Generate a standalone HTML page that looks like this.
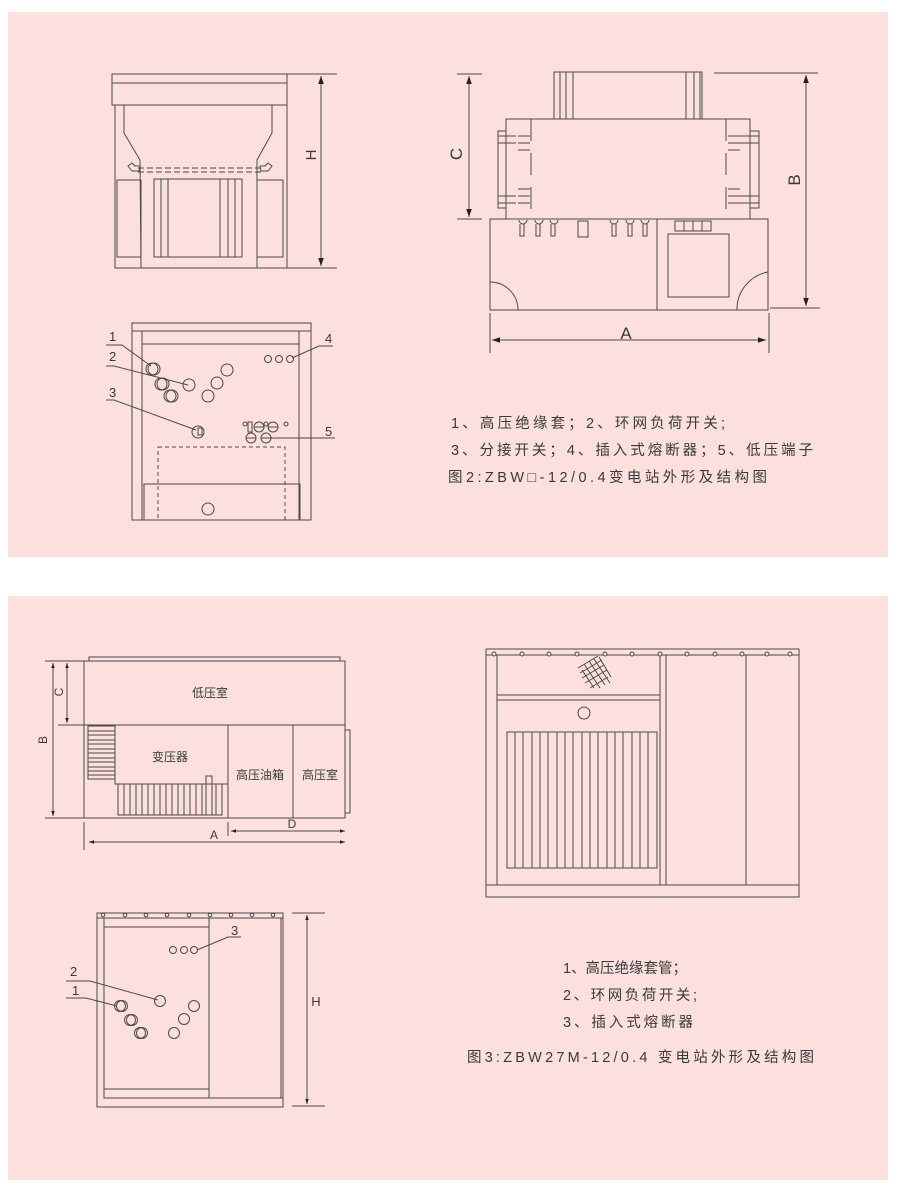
<!DOCTYPE html>
<html><head><meta charset="utf-8"><style>
html,body{margin:0;padding:0;background:#fff;}
svg{display:block;}
text{font-family:"Liberation Sans","Noto Sans CJK SC",sans-serif;fill:#3a3a3a;}
</style></head><body>
<svg width="900" height="1189" viewBox="0 0 900 1189" xmlns="http://www.w3.org/2000/svg">
<defs>
<marker id="ar" viewBox="0 0 10 10" refX="10" refY="5" markerWidth="8" markerHeight="8" orient="auto-start-reverse"><path d="M0,1.5 L10,5 L0,8.5 z" fill="#222"/></marker>
<marker id="as" viewBox="0 0 10 10" refX="10" refY="5" markerWidth="5" markerHeight="5" orient="auto-start-reverse"><path d="M0,1.5 L10,5 L0,8.5 z" fill="#222"/></marker>
</defs>
<rect x="8" y="12" width="880" height="545" fill="#fbe0de"/>
<rect x="8" y="596" width="880" height="584" fill="#fbe0de"/>
<g fill="none" stroke="#4a4a4a" stroke-width="1">
<!-- Fig1 top-left -->
<rect x="112" y="74" width="175" height="31"/>
<line x1="112" y1="83" x2="287" y2="83"/>
<polyline points="115,105 115,268 287,268 287,105"/>
<polyline points="124,105 124,133 140,160 141,268"/>
<polyline points="272,105 272,133 257,160 257,268"/>
<line x1="138" y1="168" x2="262" y2="168" stroke-dasharray="6,3"/>
<line x1="138" y1="172" x2="262" y2="172" stroke-dasharray="6,3"/>
<path d="M128,166 l4,-3 l3,3 l5,0 l-1,5 l-7,0 z"/>
<path d="M272,166 l-4,-3 l-3,3 l-5,0 l1,5 l7,0 z"/>
<rect x="117" y="180" width="24" height="77"/>
<rect x="257" y="180" width="26" height="77"/>
<rect x="154" y="179" width="88" height="78"/>
<line x1="161" y1="179" x2="161" y2="257"/><line x1="168" y1="179" x2="168" y2="257"/>
<line x1="220" y1="179" x2="220" y2="257"/><line x1="228" y1="179" x2="228" y2="257"/><line x1="235" y1="179" x2="235" y2="257"/>
<line x1="287" y1="74" x2="337" y2="74"/><line x1="287" y1="268" x2="337" y2="268"/>
<line x1="321" y1="76" x2="321" y2="266" marker-start="url(#ar)" marker-end="url(#ar)"/>
<!-- Fig2 right -->
<rect x="554" y="72" width="148" height="47"/>
<line x1="560" y1="72" x2="560" y2="119"/><line x1="566" y1="72" x2="566" y2="119"/><line x1="573" y1="72" x2="573" y2="119"/>
<line x1="686" y1="72" x2="686" y2="119"/><line x1="694" y1="72" x2="694" y2="119"/><line x1="700" y1="72" x2="700" y2="119"/>
<rect x="506" y="119" width="244" height="100"/>
<line x1="531" y1="119" x2="531" y2="219" stroke-dasharray="22,12"/>
<line x1="726" y1="119" x2="726" y2="219" stroke-dasharray="22,12"/>
<rect x="498" y="131" width="8" height="77"/><rect x="750" y="131" width="9" height="77"/>
<path d="M498,136h18M498,143h18M518,136h12M518,143h12M518,150h12M498,196h18M498,203h18M518,196h12M518,203h12M518,189h12"/>
<path d="M740,136h19M740,143h19M728,136h12M728,143h12M728,150h12M740,196h19M740,203h19M728,196h12M728,203h12M728,189h12"/>
<rect x="490" y="219" width="278" height="91"/>
<line x1="657" y1="219" x2="657" y2="310"/>
<rect x="668" y="234" width="61" height="63"/>
<path d="M490,282 A28,28 0 0 1 518,310"/>
<path d="M768,272 A38,38 0 0 0 737,310"/>
<g>
<path d="M519,220 a4,4 0 0 0 8,0 M520,224 v12 h4 v-12 M535,220 a4,4 0 0 0 8,0 M536,224 v12 h4 v-12 M550,220 a4,4 0 0 0 8,0 M551,224 v12 h4 v-12"/>
<rect x="578" y="221" width="10" height="16"/>
<path d="M610,220 a4,4 0 0 0 8,0 M612,224 v12 h4 v-12 M626,220 a4,4 0 0 0 8,0 M628,224 v12 h4 v-12 M641,220 a4,4 0 0 0 8,0 M643,224 v12 h4 v-12"/>
<rect x="675" y="221" width="9" height="10"/><rect x="684" y="221" width="9" height="10"/><rect x="693" y="221" width="9" height="10"/><rect x="702" y="221" width="9" height="10"/>
</g>
<line x1="457" y1="74" x2="482" y2="74"/><line x1="457" y1="219" x2="482" y2="219"/>
<line x1="469" y1="76" x2="469" y2="217" marker-start="url(#ar)" marker-end="url(#ar)"/>
<line x1="714" y1="73" x2="818" y2="73"/><line x1="770" y1="308" x2="820" y2="308"/>
<line x1="806" y1="75" x2="806" y2="306" marker-start="url(#ar)" marker-end="url(#ar)"/>
<line x1="490" y1="313" x2="490" y2="353"/><line x1="769" y1="313" x2="769" y2="353"/>
<line x1="492" y1="340" x2="766" y2="340" marker-start="url(#ar)" marker-end="url(#ar)"/>
<!-- Fig2 bottom-left -->
<rect x="132" y="323" width="179" height="197"/>
<line x1="132" y1="331" x2="311" y2="331"/>
<line x1="142" y1="331" x2="142" y2="520"/><line x1="299" y1="331" x2="299" y2="520"/>
<line x1="142" y1="344" x2="299" y2="344"/>
<rect x="158" y="447" width="127" height="73" stroke-dasharray="4,3"/>
<rect x="144" y="484" width="156" height="36"/>
<circle cx="208" cy="509" r="6"/>
<circle cx="152" cy="369" r="6"/><circle cx="154" cy="369" r="6"/>
<circle cx="161" cy="384" r="6"/><circle cx="163" cy="384" r="6"/>
<circle cx="170" cy="396" r="6"/><circle cx="172" cy="396" r="6"/>
<circle cx="189" cy="385" r="6"/>
<circle cx="227" cy="370" r="6"/><circle cx="217" cy="383" r="6"/><circle cx="208" cy="396" r="6"/>
<circle cx="198" cy="432" r="6"/><rect x="198" y="428" width="4" height="7"/>
<circle cx="268" cy="359" r="3.5"/><circle cx="279" cy="359" r="3.5"/><circle cx="290" cy="359" r="3.5"/>
<circle cx="245" cy="424" r="2"/><rect x="248" y="422" width="4" height="10"/>
<circle cx="259" cy="427" r="5"/><circle cx="273" cy="427" r="5"/><circle cx="266" cy="424" r="2"/><circle cx="286" cy="424" r="2"/>
<circle cx="251" cy="438" r="5"/><circle cx="266" cy="438" r="5"/>
<path d="M254,427h10M268,427h10M246,438h10M261,438h10"/>
<path d="M106,345 h16 L151,366"/>
<path d="M106,366 h8 L188,385"/>
<path d="M106,400 h8 L196,430"/>
<path d="M333,346 h-14 L292,358"/>
<path d="M335,438 L267,438"/>
<!-- Fig3 top-left -->
<rect x="89" y="657" width="251" height="4"/>
<rect x="84" y="661" width="261" height="157"/>
<line x1="84" y1="725" x2="345" y2="725"/>
<rect x="88" y="726" width="27" height="53"/>
<path d="M88,731h27M88,735h27M88,740h27M88,744h27M88,749h27M88,753h27M88,758h27M88,762h27M88,767h27M88,771h27M88,775h27"/>
<rect x="115" y="725" width="113" height="59"/>
<path d="M118,784v31h104v-31M124,784v31M130,784v31M136,784v31M142,784v31M148,784v31M154,784v31M160,784v31M166,784v31M172,784v31M178,784v31M184,784v31M190,784v31M196,784v31M202,784v31M216,784v31"/>
<rect x="206" y="776" width="6" height="39"/>
<line x1="228" y1="725" x2="228" y2="818"/><line x1="293" y1="725" x2="293" y2="818"/>
<rect x="345" y="730" width="5" height="83"/>
<line x1="45" y1="661" x2="84" y2="661"/><line x1="45" y1="818" x2="84" y2="818"/><line x1="58" y1="725" x2="84" y2="725"/>
<line x1="53" y1="663" x2="53" y2="816" marker-start="url(#as)" marker-end="url(#as)"/>
<line x1="67" y1="663" x2="67" y2="723" marker-start="url(#as)" marker-end="url(#as)"/>
<line x1="84" y1="822" x2="84" y2="850"/><line x1="228" y1="822" x2="228" y2="836"/>
<line x1="89" y1="842" x2="345" y2="842" marker-start="url(#as)" marker-end="url(#as)"/>
<line x1="231" y1="831" x2="345" y2="831" marker-start="url(#as)" marker-end="url(#as)"/>
<!-- Fig3 right -->
<rect x="486" y="649" width="313" height="248"/>
<line x1="486" y1="655" x2="799" y2="655"/>
<line x1="486" y1="885" x2="799" y2="885"/>
<line x1="497" y1="655" x2="497" y2="885"/>
<line x1="660" y1="655" x2="660" y2="885"/><line x1="666" y1="655" x2="666" y2="885"/>
<line x1="746" y1="655" x2="746" y2="885"/>
<rect x="497" y="695" width="163" height="5"/>
<circle cx="584" cy="713" r="6"/>
<g fill="#fbe0de"><circle cx="494" cy="654" r="2"/><circle cx="522" cy="654" r="2"/><circle cx="549" cy="654" r="2"/><circle cx="577" cy="654" r="2"/><circle cx="605" cy="654" r="2"/><circle cx="632" cy="654" r="2"/><circle cx="660" cy="654" r="2"/><circle cx="687" cy="654" r="2"/><circle cx="715" cy="654" r="2"/><circle cx="742" cy="654" r="2"/><circle cx="767" cy="654" r="2"/><circle cx="790" cy="654" r="2"/></g>
<path d="M578,668l20,-12M580,673l22,-13M582,678l22,-13M585,683l22,-13M590,688l18,-11M584,664l16,24M589,661l16,24M594,659l16,24M599,657l12,20M582,670l12,18"/>
<rect x="507" y="732" width="150" height="136"/>
<path d="M515,732v136M523,732v136M532,732v136M540,732v136M548,732v136M557,732v136M565,732v136M573,732v136M582,732v136M590,732v136M598,732v136M607,732v136M615,732v136M623,732v136M632,732v136M640,732v136M648,732v136"/>
<!-- Fig3 bottom-left -->
<rect x="97" y="913" width="186" height="194"/>
<line x1="97" y1="918" x2="283" y2="918"/>
<rect x="104" y="918" width="105" height="180"/>
<line x1="104" y1="927" x2="209" y2="927"/>
<line x1="104" y1="1089" x2="209" y2="1089"/>
<line x1="209" y1="1098" x2="283" y2="1098"/>
<line x1="281" y1="918" x2="281" y2="1098"/>
<g fill="#fbe0de"><circle cx="103" cy="915" r="1.8"/><circle cx="125" cy="915" r="1.8"/><circle cx="146" cy="915" r="1.8"/><circle cx="167" cy="915" r="1.8"/><circle cx="189" cy="915" r="1.8"/><circle cx="210" cy="915" r="1.8"/><circle cx="231" cy="915" r="1.8"/><circle cx="252" cy="915" r="1.8"/><circle cx="273" cy="915" r="1.8"/></g>
<circle cx="173" cy="950" r="3.5"/><circle cx="184" cy="950" r="3.5"/><circle cx="194" cy="950" r="3.5"/>
<circle cx="160" cy="1001" r="5.5"/>
<circle cx="120" cy="1006" r="5.5"/><circle cx="122" cy="1006" r="5.5"/>
<circle cx="130" cy="1020" r="5.5"/><circle cx="132" cy="1020" r="5.5"/>
<circle cx="140" cy="1033" r="5.5"/><circle cx="142" cy="1033" r="5.5"/>
<circle cx="194" cy="1006" r="5.5"/><circle cx="184" cy="1019" r="5.5"/><circle cx="174" cy="1033" r="5.5"/>
<path d="M241,937 h-13 L197,950"/>
<path d="M66,981 h24 L158,1000"/>
<path d="M66,998 h20 L117,1006"/>
<line x1="292" y1="913" x2="325" y2="913"/><line x1="292" y1="1106" x2="325" y2="1106"/>
<line x1="307" y1="915" x2="307" y2="1104" marker-start="url(#as)" marker-end="url(#as)"/>
</g>
<!-- labels -->
<text x="316" y="155" font-size="15" transform="rotate(-90 316 155)" text-anchor="middle">H</text>
<text x="462" y="154" font-size="17" transform="rotate(-90 462 154)" text-anchor="middle">C</text>
<text x="800" y="180" font-size="17" transform="rotate(-90 800 180)" text-anchor="middle">B</text>
<text x="626" y="339" font-size="17" text-anchor="middle">A</text>
<g font-size="13"><text x="109" y="341">1</text><text x="109" y="361">2</text><text x="109" y="397">3</text><text x="325" y="343">4</text><text x="325" y="436">5</text></g>
<g font-size="14.5" letter-spacing="2">
<text x="451" y="428" textLength="276">1、高压绝缘套；2、环网负荷开关;</text>
<text x="451" y="455" textLength="364">3、分接开关；4、插入式熔断器；5、低压端子</text>
<text x="448" y="482" textLength="320" letter-spacing="1">图2:ZBW□-12/0.4变电站外形及结构图</text>
</g>
<g font-size="12">
<text x="210" y="697" text-anchor="middle">低压室</text>
<text x="170" y="761" text-anchor="middle">变压器</text>
<text x="260" y="779" text-anchor="middle">高压油箱</text>
<text x="320" y="779" text-anchor="middle">高压室</text>
</g>
<g font-size="12">
<text x="47" y="740" transform="rotate(-90 47 740)" text-anchor="middle">B</text>
<text x="63" y="692" transform="rotate(-90 63 692)" text-anchor="middle">C</text>
<text x="214" y="839" text-anchor="middle">A</text>
<text x="292" y="828" text-anchor="middle">D</text>
<text x="316" y="1006" text-anchor="middle" font-size="13">H</text>
<text x="231" y="935" font-size="13">3</text>
<text x="70" y="976" font-size="13">2</text>
<text x="72" y="995" font-size="13">1</text>
</g>
<g font-size="14.5" letter-spacing="2">
<text x="563" y="973" textLength="126">1、高压绝缘套管；</text>
<text x="563" y="1000" textLength="136">2、环网负荷开关;</text>
<text x="563" y="1027" textLength="132">3、插入式熔断器</text>
<text x="467" y="1062" textLength="348" letter-spacing="1">图3:ZBW27M-12/0.4 变电站外形及结构图</text>
</g>
</svg>
</body></html>
